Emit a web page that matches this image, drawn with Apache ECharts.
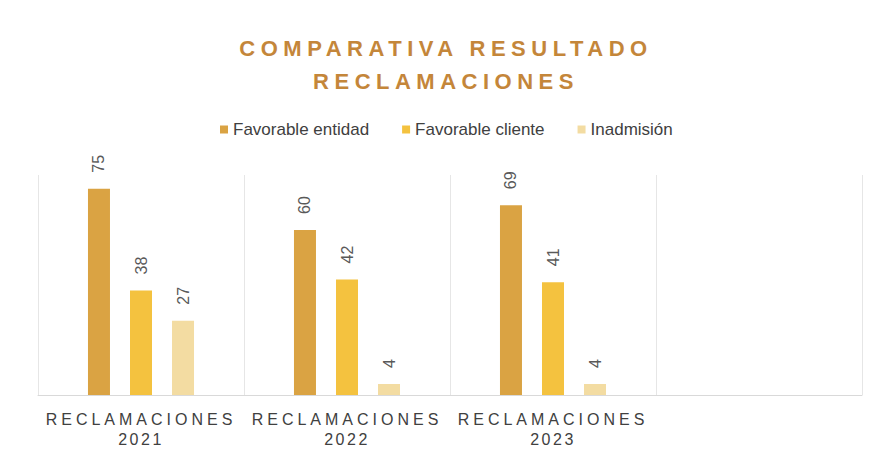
<!DOCTYPE html>
<html>
<head>
<meta charset="utf-8">
<title>Comparativa resultado reclamaciones</title>
<script src="https://cdn.jsdelivr.net/npm/echarts@6/dist/echarts.min.js"></script>
<style>
    html, body { margin: 0; padding: 0; background: #ffffff; }
    #chartDiv { width: 878px; height: 457px; }
</style>
</head>
<body>
<div id="chartDiv"></div>
<script>
// datos del gráfico
var categorias = ['RECLAMACIONES\n2021', 'RECLAMACIONES\n2022', 'RECLAMACIONES\n2023', ''];
var favorableEntidad = [75, 60, 69, null];
var favorableCliente = [38, 42, 41, null];
var inadmision = [27, 4, 4, null];
var nombresSeries = ['Favorable entidad', 'Favorable cliente', 'Inadmisión'];
var coloresSeries = ['#DAA343', '#F4C23F', '#F3DCA2'];
var tituloLineas = ['COMPARATIVA RESULTADO', 'RECLAMACIONES'];

var fuente = '"Liberation Sans", Arial, sans-serif';
var myChart = echarts.init(document.getElementById('chartDiv'), null, {renderer: 'svg'});

function serie(i, datos) {
    return {
        name: nombresSeries[i],
        type: 'bar',
        barWidth: 22,
        barGap: '91%',
        itemStyle: {color: coloresSeries[i]},
        label: {
            show: true,
            position: 'top',
            rotate: 90,
            align: 'left',
            verticalAlign: 'middle',
            distance: 16,
            fontSize: 16,
            fontFamily: fuente,
            color: '#595959'
        },
        data: datos
    };
}

myChart.setOption({
    animation: false,
    title: {
        text: tituloLineas.join('\n'),
        left: 441,
        top: 27,
        textAlign: 'center',
        textStyle: {
            fontSize: 22,
            fontWeight: 'bold',
            fontFamily: fuente,
            lineHeight: 33,
            color: '#C4863A'
        }
    },
    legend: {
        left: 220,
        top: 121,
        padding: 0,
        itemWidth: 8,
        itemHeight: 8,
        itemGap: 33,
        icon: 'rect',
        textStyle: {fontSize: 17, fontFamily: fuente, color: '#404040'},
        data: nombresSeries
    },
    grid: {left: 38, right: 16, top: 175, bottom: 62},
    xAxis: {
        type: 'category',
        data: categorias,
        axisTick: {show: false},
        axisLine: {lineStyle: {color: '#d9d9d9'}},
        splitLine: {show: true, lineStyle: {color: '#e6e6e6'}},
        axisLabel: {
            margin: 14,
            fontSize: 16,
            lineHeight: 20,
            fontFamily: fuente,
            color: '#404040'
        }
    },
    yAxis: {
        type: 'value',
        min: 0,
        max: 80,
        show: false
    },
    series: [
        serie(0, favorableEntidad),
        serie(1, favorableCliente),
        serie(2, inadmision)
    ]
});

// espaciado de letras (título y etiquetas del eje)
function espaciarLetras() {
    var textos = document.querySelectorAll('#chartDiv svg text');
    for (var i = 0; i < textos.length; i++) {
        var s = textos[i].textContent;
        var estilo = textos[i].getAttribute('style') || '';
        if (tituloLineas.indexOf(s) >= 0 && estilo.indexOf('bold') >= 0) {
            textos[i].style.letterSpacing = '5.5px';
        } else if (s === 'RECLAMACIONES') {
            textos[i].style.letterSpacing = '4px';
        } else if (/^20\d\d$/.test(s)) {
            textos[i].style.letterSpacing = '2.5px';
        }
    }
}
myChart.on('finished', espaciarLetras);
setTimeout(espaciarLetras, 0);
setTimeout(espaciarLetras, 200);
</script>
</body>
</html>
